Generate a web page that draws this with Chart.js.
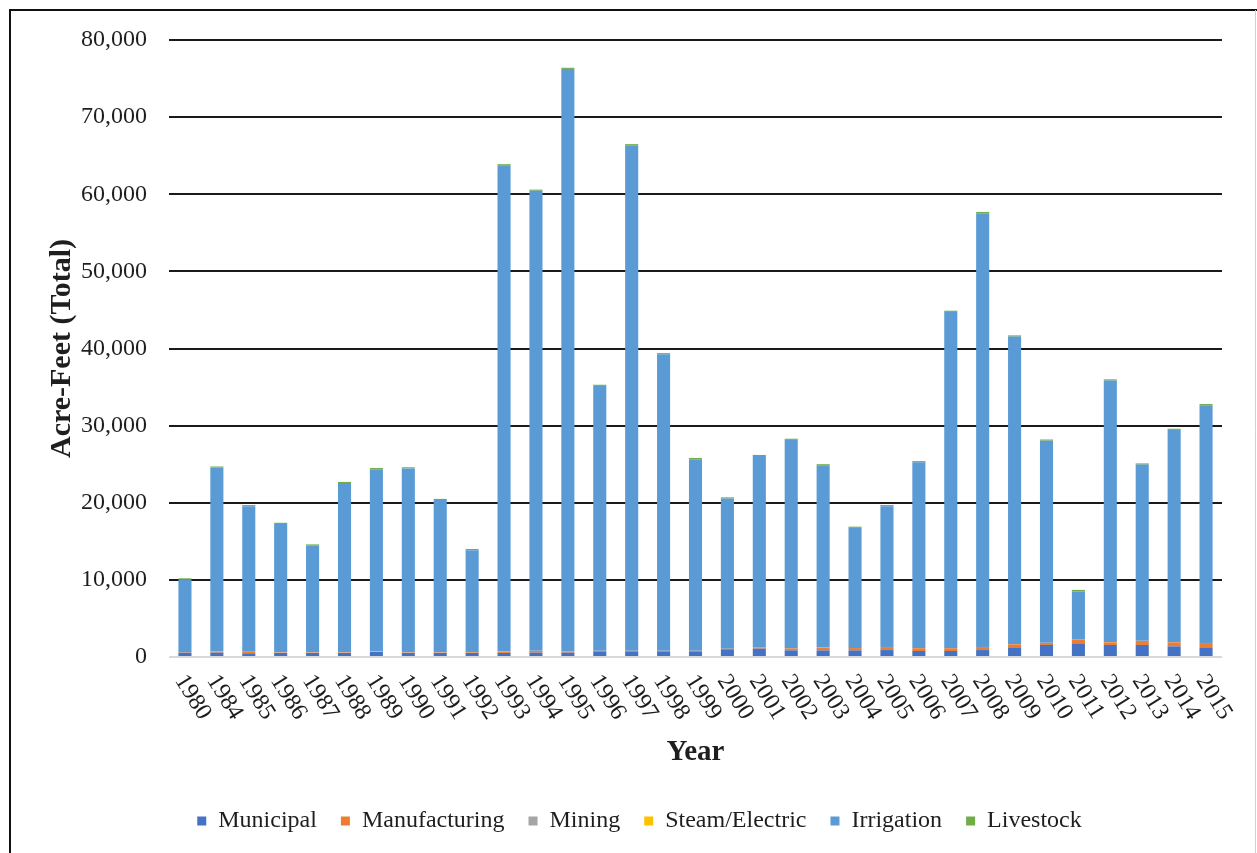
<!DOCTYPE html>
<html>
<head>
<meta charset="utf-8">
<script src="https://cdn.jsdelivr.net/npm/chart.js@4"></script>
<style>
  html, body { margin: 0; padding: 0; background: #fff; }
  canvas { display: block; }
</style>
</head>
<body>
<canvas id="waterUse" width="1257" height="853"></canvas>
<script>
const years = ['1980', '1984', '1985', '1986', '1987', '1988', '1989', '1990', '1991', '1992',
  '1993', '1994', '1995', '1996', '1997', '1998', '1999', '2000', '2001', '2002', '2003',
  '2004', '2005', '2006', '2007', '2008', '2009', '2010', '2011', '2012', '2013', '2014', '2015'];

const municipal = [550, 560, 480, 520, 520, 520, 650, 520, 520, 520,
  520, 560, 560, 730, 730, 730, 730, 1000, 1080, 860, 860,
  860, 900, 780, 780, 900, 1250, 1560, 1770, 1560, 1560, 1380, 1250];

const manufacturing = [50, 150, 170, 60, 60, 60, 60, 60, 60, 80,
  120, 220, 130, 60, 60, 60, 60, 60, 170, 260, 340,
  300, 390, 350, 350, 390, 390, 260, 520, 350, 520, 520, 560];

const mining = [20, 20, 20, 20, 20, 20, 20, 20, 20, 60,
  60, 20, 20, 20, 20, 20, 20, 20, 20, 20, 20,
  20, 20, 20, 20, 20, 20, 20, 20, 20, 20, 20, 20];

const steamElectric = [0, 0, 0, 0, 0, 0, 0, 0, 0, 0,
  0, 0, 0, 0, 0, 0, 0, 0, 0, 0, 0,
  0, 0, 0, 0, 0, 0, 0, 0, 0, 0, 0, 0];

const irrigation = [9380, 23820, 18880, 16650, 13850, 21950, 23620, 23850, 19750, 13190,
  63050, 59650, 75540, 34340, 65540, 38440, 24840, 19470, 24780, 27010, 23630,
  15570, 18240, 24100, 43600, 56240, 39890, 26210, 6190, 33920, 22850, 27530, 30820];

const livestock = [200, 150, 150, 150, 150, 150, 150, 150, 150, 150,
  150, 150, 150, 150, 150, 150, 150, 150, 150, 150, 150,
  150, 150, 150, 150, 150, 150, 150, 200, 150, 150, 150, 150];

const yTicks = [0, 10000, 20000, 30000, 40000, 50000, 60000, 70000, 80000];

const serif = '"Liberation Serif", "Times New Roman", serif';
const textColor = '#1e1e1e';

Chart.defaults.font.family = serif;
Chart.defaults.color = textColor;

// frame around the whole figure + rotated year labels
const framePlugin = {
  id: 'frame',
  afterLayout(chart) {
    // legend is centred on the whole figure, not on chart area + padding
    chart.legend.left += 24;
    chart.legend.right += 24;
  },
  beforeDraw(chart) {
    const ctx = chart.ctx;
    ctx.save();
    ctx.fillStyle = '#fff';
    ctx.fillRect(0, 0, chart.width, chart.height);
    ctx.restore();
  },
  afterDraw(chart) {
    const ctx = chart.ctx;
    ctx.save();
    ctx.strokeStyle = '#111';
    ctx.lineWidth = 2;
    ctx.beginPath();
    ctx.moveTo(10, chart.height);
    ctx.lineTo(10, 10);
    ctx.lineTo(chart.width, 10);
    ctx.stroke();
    ctx.strokeStyle = '#d0d0d0';
    ctx.lineWidth = 1;
    ctx.beginPath();
    ctx.moveTo(chart.width - 1.5, 10);
    ctx.lineTo(chart.width - 1.5, chart.height);
    ctx.stroke();

    const xScale = chart.scales.x;
    ctx.font = '24px ' + serif;
    ctx.fillStyle = textColor;
    ctx.textAlign = 'left';
    ctx.textBaseline = 'middle';
    years.forEach((yr, i) => {
      const x = xScale.getPixelForValue(i);
      ctx.save();
      ctx.translate(x - 5, xScale.top + 20);
      ctx.rotate(58 * Math.PI / 180);
      ctx.fillText(yr, 0, 0);
      ctx.restore();
    });
    ctx.restore();
  }
};

const ctx = document.getElementById('waterUse');
new Chart(ctx, {
  type: 'bar',
  data: {
    labels: years,
    datasets: [
      { label: 'Municipal', data: municipal, backgroundColor: '#4472C4' },
      { label: 'Manufacturing', data: manufacturing, backgroundColor: '#ED7D31' },
      { label: 'Mining', data: mining, backgroundColor: '#A5A5A5' },
      { label: 'Steam/Electric', data: steamElectric, backgroundColor: '#FFC000' },
      { label: 'Irrigation', data: irrigation, backgroundColor: '#5B9BD5' },
      { label: 'Livestock', data: livestock, backgroundColor: '#70AD47' }
    ]
  },
  options: {
    responsive: false,
    animation: false,
    events: [],
    layout: {
      padding: { left: 9, right: 35, top: 40, bottom: 10 }
    },
    datasets: {
      bar: { barPercentage: 0.41, categoryPercentage: 1 }
    },
    scales: {
      x: {
        stacked: true,
        grid: { display: false },
        border: { display: false },
        ticks: { display: false },
        title: {
          display: true,
          text: 'Year',
          font: { size: 29, weight: 'bold', family: serif },
          color: textColor,
          padding: { top: 0, bottom: 15 }
        },
        afterFit(scale) {
          scale.height = 128;
        }
      },
      y: {
        stacked: true,
        min: 0,
        max: 80000,
        afterBuildTicks(scale) {
          scale.ticks = yTicks.map(v => ({ value: v }));
        },
        grid: {
          drawTicks: false,
          lineWidth: 2,
          color: c => (c.tick && c.tick.value === 0 ? '#d9d9d9' : '#1a1a1a')
        },
        border: { display: false },
        ticks: {
          padding: 22,
          font: { size: 24, family: serif },
          color: textColor,
          callback: v => v.toLocaleString('en-US')
        },
        title: {
          display: true,
          text: 'Acre-Feet (Total)',
          font: { size: 30, weight: 'bold', family: serif },
          color: textColor,
          padding: { top: 35, bottom: 0 }
        },
        afterFit(scale) {
          scale.width = 160;
        }
      }
    },
    plugins: {
      legend: {
        position: 'bottom',
        labels: {
          boxWidth: 9,
          boxHeight: 9,
          padding: 24,
          color: textColor,
          font: { size: 24, family: serif }
        }
      },
      tooltip: { enabled: false }
    }
  },
  plugins: [framePlugin]
});
</script>
</body>
</html>
